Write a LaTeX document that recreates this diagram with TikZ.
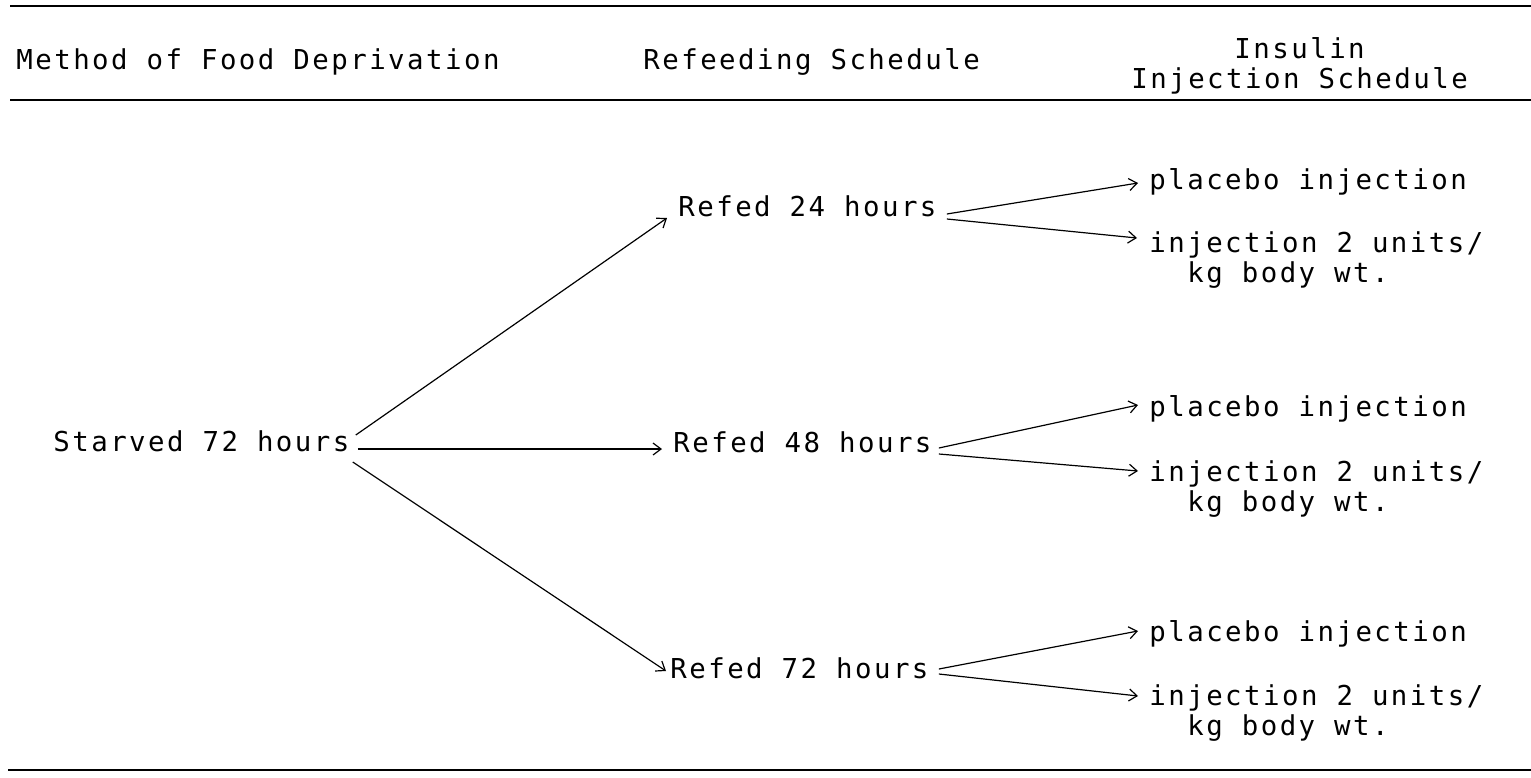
\documentclass[tikz,border=0pt]{standalone}
\usepackage{fontspec}
\setmonofont[LetterSpace=9]{DejaVu Sans Mono}
\usetikzlibrary{arrows.meta, positioning}

\begin{document}
\begin{tikzpicture}[
        x=0.5pt, y=-0.5pt,
        every node/.style={font=\ttfamily\fontsize{13.7}{15}\selectfont, inner sep=0pt, anchor=base west},
        rule/.style={line width=1.4pt},
        arrow/.style={line width=0.6pt, -{Straight Barb[length=4pt, width=6pt]}}
    ]
        \useasboundingbox (0,0) rectangle (1531,777);

        % table rules
        \draw[rule] (10,6) -- (1531,6);
        \draw[rule] (10,100) -- (1531,100);
        \draw[rule] (8,770) -- (1531,770);

        % column heads
        \node (methodhead) at (16,69) {Method of Food Deprivation};
        \node (refeedhead) at (643,69) {Refeeding Schedule};
        \node (injhead) at (1131,88) {Injection Schedule};
        \node[anchor=base] (insulinhead) at ([yshift=15pt]injhead.base) {Insulin};

        % deprivation and refeeding
        \node (starve) at (53,451) {Starved 72 hours};
        \node (refed24) at (678,216) {Refed 24 hours};
        \node (refed48) at (673,452) {Refed 48 hours};
        \node (refed72) at (670,678) {Refed 72 hours};

        % injections
        \node (plac24) at (1149,189) {placebo injection};
        \node (inj24) at (1149,252) {injection 2 units/};
        \node (kg24) at ([xshift=19pt, yshift=-15pt]inj24.base west) {kg body wt.};
        \node (plac48) at (1149,416) {placebo injection};
        \node (inj48) at (1149,481) {injection 2 units/};
        \node (kg48) at ([xshift=19pt, yshift=-15pt]inj48.base west) {kg body wt.};
        \node (plac72) at (1149,641) {placebo injection};
        \node (inj72) at (1149,705) {injection 2 units/};
        \node (kg72) at ([xshift=19pt, yshift=-15pt]inj72.base west) {kg body wt.};

        \draw[arrow] ([xshift=3pt, yshift=8pt]starve.base east) -- ([xshift=-5.5pt, yshift=-1pt]refed24.base west);
        \draw[arrow] ([xshift=4pt, yshift=1pt]starve.base east) -- ([xshift=-5.5pt, yshift=1.5pt]refed48.base west);
        \draw[arrow] ([xshift=1.5pt, yshift=-5.5pt]starve.base east) -- ([xshift=-2pt, yshift=3.5pt]refed72.base west);

        \draw[arrow] ([xshift=5pt, yshift=1pt]refed24.base east) -- ([xshift=-5.5pt, yshift=3pt]plac24.base west);
        \draw[arrow] ([xshift=5pt, yshift=-1.5pt]refed24.base east) -- ([xshift=-6pt, yshift=7pt]inj24.base west);
        \draw[arrow] ([xshift=3.5pt, yshift=2pt]refed48.base east) -- ([xshift=-5.5pt, yshift=5.5pt]plac48.base west);
        \draw[arrow] ([xshift=3.5pt, yshift=-1pt]refed48.base east) -- ([xshift=-5.5pt, yshift=5pt]inj48.base west);
        \draw[arrow] ([xshift=5pt, yshift=4.5pt]refed72.base east) -- ([xshift=-5.5pt, yshift=5pt]plac72.base west);
        \draw[arrow] ([xshift=5pt, yshift=2pt]refed72.base east) -- ([xshift=-5.5pt, yshift=4.5pt]inj72.base west);

    \end{tikzpicture}
\end{document}
